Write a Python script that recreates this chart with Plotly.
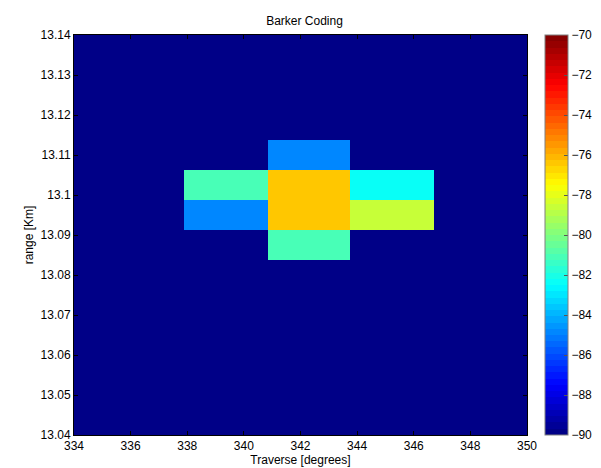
import plotly.graph_objects as go

# Cell edges (degrees, km)
x_edges = [334, 337.89, 340.84, 343.76, 346.71, 350]
y_edges = [13.04, 13.0837, 13.0912, 13.0987, 13.1062, 13.1137, 13.14]

# Power values (dB), rows from bottom to top
row0 = [-90, -90, -90, -90, -90]
row1 = [-90, -90, -81.0, -90, -90]
row2 = [-90, -84.75, -76.5, -78.75, -90]
row3 = [-90, -81.0, -76.5, -82.2, -90]
row4 = [-90, -90, -84.75, -90, -90]
row5 = [-90, -90, -90, -90, -90]
z = [row0, row1, row2, row3, row4, row5]

x_ticks = [334, 336, 338, 340, 342, 344, 346, 348, 350]
y_ticks = [13.04, 13.05, 13.06, 13.07, 13.08, 13.09, 13.1, 13.11, 13.12, 13.13, 13.14]
y_ticktext = ["13.04", "13.05", "13.06", "13.07", "13.08", "13.09", "13.1", "13.11", "13.12", "13.13", "13.14"]
cb_ticks = [-90, -88, -86, -84, -82, -80, -78, -76, -74, -72, -70]


def jet(t):
    def ramp(v):
        return max(0.0, min(1.0, v))
    r = ramp(1.5 - abs(4 * t - 3))
    g = ramp(1.5 - abs(4 * t - 2))
    b = ramp(1.5 - abs(4 * t - 1))
    return "rgb(%d,%d,%d)" % (round(r * 255), round(g * 255), round(b * 255))


N = 64
colorscale = []
for i in range(N):
    c = jet((i + 0.5) / N)
    colorscale.append([i / N, c])
    colorscale.append([(i + 1) / N, c])

FONT = "Liberation Sans, Arial"
axis_font = dict(family=FONT, size=12, color="black")

fig = go.Figure(go.Heatmap(
    x=x_edges, y=y_edges, z=z,
    zmin=-90, zmax=-70,
    colorscale=colorscale,
    colorbar=dict(
        x=(545 - 66) / 461, xanchor="left", xpad=0,
        y=0.5, yanchor="middle", len=1, lenmode="fraction", ypad=0,
        thickness=23, thicknessmode="pixels",
        outlinecolor="#808080", outlinewidth=1,
        tickvals=cb_ticks, ticks="inside", ticklen=4, tickcolor="#555",
        tickfont=axis_font,
    ),
    showscale=True,
))

fig.update_layout(
    width=601, height=468,
    margin=dict(l=66, r=74, t=27, b=35),
    paper_bgcolor="white", plot_bgcolor="white",
    title=dict(text="Barker Coding", x=0.5 * (66 + 527) / 601, xanchor="center",
               y=1 - 13 / 468, yanchor="middle",
               font=dict(family=FONT, size=12, color="black")),
    font=axis_font,
)
fig.update_xaxes(
    range=[334, 350], tickvals=x_ticks, ticks="inside", ticklen=4,
    tickcolor="black", showline=True, linecolor="black", mirror="ticks",
    showgrid=False, zeroline=False, tickfont=axis_font,
    title=dict(text="Traverse [degrees]", font=axis_font, standoff=2),
)
fig.update_yaxes(
    range=[13.04, 13.14], tickvals=y_ticks, ticktext=y_ticktext, ticks="inside",
    ticklen=4, tickcolor="black", showline=True, linecolor="black", mirror="ticks",
    showgrid=False, zeroline=False, tickfont=axis_font,
    title=dict(text="range [Km]", font=axis_font, standoff=4),
)

fig.write_html("out.html")
